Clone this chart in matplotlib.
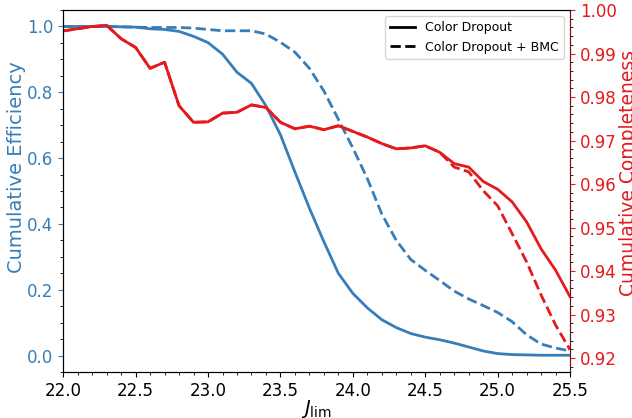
import numpy as np
import matplotlib
matplotlib.use("Agg")
import matplotlib.pyplot as plt
from matplotlib.lines import Line2D
from matplotlib.ticker import MultipleLocator

# magnitude limit grid
j_lim = [22.0, 22.1, 22.2, 22.3, 22.4, 22.5, 22.6, 22.7, 22.8, 22.9,
         23.0, 23.1, 23.2, 23.3, 23.4, 23.5, 23.6, 23.7, 23.8, 23.9,
         24.0, 24.1, 24.2, 24.3, 24.4, 24.5, 24.6, 24.7, 24.8, 24.9,
         25.0, 25.1, 25.2, 25.3, 25.4, 25.5]

# cumulative efficiency
eff_dropout = [1.000, 1.000, 1.000, 1.000, 0.999, 0.998, 0.993, 0.991, 0.985, 0.970,
               0.951, 0.916, 0.861, 0.827, 0.759, 0.671, 0.558, 0.448, 0.346, 0.250,
               0.189, 0.145, 0.109, 0.085, 0.067, 0.056, 0.048, 0.038, 0.026, 0.014,
               0.006, 0.003, 0.002, 0.001, 0.001, 0.001]
eff_bmc = [1.000, 1.000, 1.000, 1.000, 0.999, 0.998, 0.997, 0.997, 0.997, 0.995,
           0.991, 0.987, 0.987, 0.987, 0.977, 0.952, 0.922, 0.873, 0.804, 0.718,
           0.631, 0.538, 0.430, 0.350, 0.292, 0.259, 0.228, 0.196, 0.172, 0.152,
           0.131, 0.103, 0.063, 0.035, 0.023, 0.014]

# cumulative completeness
comp_dropout = [0.9952, 0.9957, 0.9962, 0.9965, 0.9934, 0.9914, 0.9866, 0.9880, 0.9780, 0.9742,
                0.9743, 0.9763, 0.9765, 0.9782, 0.9776, 0.9742, 0.9727, 0.9733, 0.9725, 0.9734,
                0.9721, 0.9708, 0.9693, 0.9681, 0.9683, 0.9688, 0.9673, 0.9647, 0.9639, 0.9606,
                0.9588, 0.9559, 0.9513, 0.9451, 0.9402, 0.9341]
comp_bmc = [0.9952, 0.9957, 0.9962, 0.9965, 0.9934, 0.9914, 0.9866, 0.9880, 0.9780, 0.9742,
            0.9743, 0.9763, 0.9765, 0.9782, 0.9776, 0.9742, 0.9727, 0.9733, 0.9725, 0.9734,
            0.9721, 0.9708, 0.9693, 0.9681, 0.9683, 0.9688, 0.9673, 0.9639, 0.9628, 0.9585,
            0.9550, 0.9486, 0.9421, 0.9345, 0.9276, 0.9219]

blue = "#377eb8"
red = "#e41a1c"

fig, ax = plt.subplots(figsize=(6.32, 4.18), dpi=100)
fig.subplots_adjust(left=0.1, right=0.902, top=0.976, bottom=0.11)

ax.plot(j_lim, eff_dropout, color=blue, lw=2)
ax.plot(j_lim, eff_bmc, color=blue, lw=2, ls="--")
ax.set_xlim(22.0, 25.5)
ax.set_ylim(-0.05, 1.05)
ax.set_xlabel(r"$J_{\rm lim}$", fontsize=14, labelpad=-1)
ax.set_ylabel("Cumulative Efficiency", color=blue, fontsize=14)
ax.yaxis.set_label_coords(-0.074, 0.565)
ax.xaxis.set_major_locator(MultipleLocator(0.5))
ax.xaxis.set_minor_locator(MultipleLocator(0.1))
ax.yaxis.set_major_locator(MultipleLocator(0.2))
ax.yaxis.set_minor_locator(MultipleLocator(0.05))
ax.tick_params(axis="x", labelsize=12)
ax.tick_params(axis="y", colors=blue, labelsize=12)

ax2 = ax.twinx()
ax2.plot(j_lim, comp_dropout, color=red, lw=2)
ax2.plot(j_lim, comp_bmc, color=red, lw=2, ls="--")
ax2.set_ylim(0.9168, 1.0)
ax2.set_ylabel("Cumulative Completeness", color=red, fontsize=13.5)
ax2.yaxis.set_label_coords(1.097, 0.55)
ax2.yaxis.set_major_locator(MultipleLocator(0.01))
ax2.yaxis.set_minor_locator(MultipleLocator(0.002))
ax2.tick_params(axis="y", colors=red, labelsize=12)
ax2.spines["right"].set_color(red)
ax2.spines["right"].set_alpha(0.5)

handles = [Line2D([], [], color="k", lw=2),
           Line2D([], [], color="k", lw=2, ls="--")]
ax2.legend(handles, ["Color Dropout", "Color Dropout + BMC"],
           loc="upper right", fontsize=9)

fig.savefig("out.png", dpi=100)
